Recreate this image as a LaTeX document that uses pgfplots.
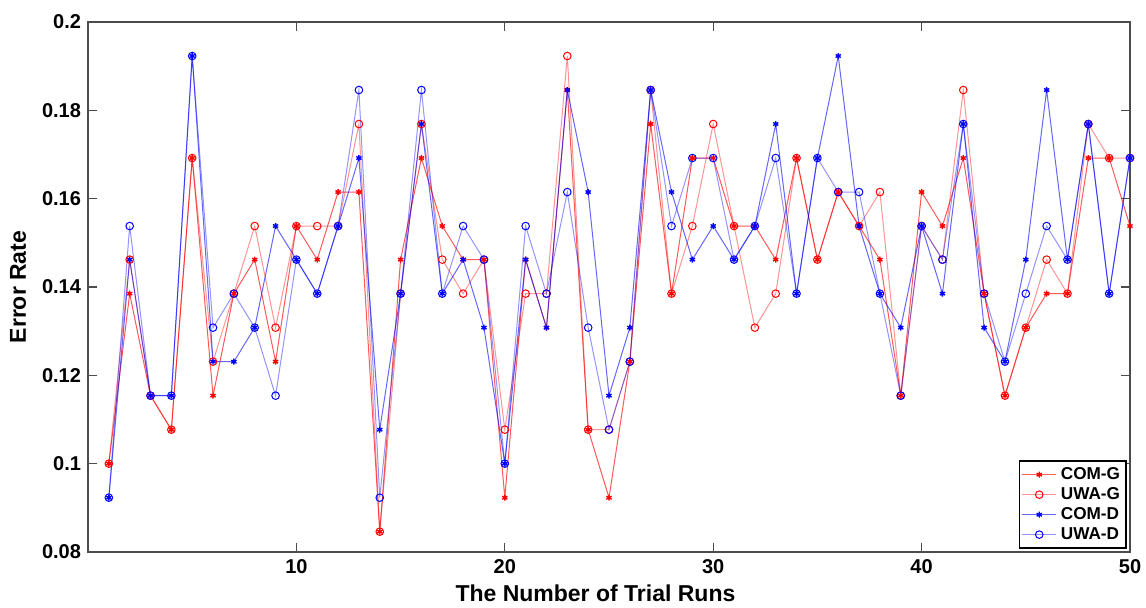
\documentclass[border=0pt]{standalone}
\usepackage{fontspec}
\setmainfont{Liberation Sans}
\usepackage{pgfplots}
\usepackage{pgfplotstable}
\pgfplotsset{compat=1.18}

\pgfplotstableread{
x comg uwag comd uwad
1 0.1000 0.1000 0.0923 0.0923
2 0.1385 0.1462 0.1462 0.1538
3 0.1154 0.1154 0.1154 0.1154
4 0.1077 0.1077 0.1154 0.1154
5 0.1692 0.1692 0.1923 0.1923
6 0.1154 0.1231 0.1231 0.1308
7 0.1385 0.1385 0.1231 0.1385
8 0.1462 0.1538 0.1308 0.1308
9 0.1231 0.1308 0.1538 0.1154
10 0.1538 0.1538 0.1462 0.1462
11 0.1462 0.1538 0.1385 0.1385
12 0.1615 0.1538 0.1538 0.1538
13 0.1615 0.1769 0.1692 0.1846
14 0.0846 0.0846 0.1077 0.0923
15 0.1462 0.1385 0.1385 0.1385
16 0.1692 0.1769 0.1769 0.1846
17 0.1538 0.1462 0.1385 0.1385
18 0.1462 0.1385 0.1462 0.1538
19 0.1462 0.1462 0.1308 0.1462
20 0.0923 0.1077 0.1000 0.1000
21 0.1462 0.1385 0.1462 0.1538
22 0.1308 0.1385 0.1308 0.1385
23 0.1846 0.1923 0.1846 0.1615
24 0.1077 0.1077 0.1615 0.1308
25 0.0923 0.1077 0.1154 0.1077
26 0.1231 0.1231 0.1308 0.1231
27 0.1769 0.1846 0.1846 0.1846
28 0.1385 0.1385 0.1615 0.1538
29 0.1692 0.1538 0.1462 0.1692
30 0.1692 0.1769 0.1538 0.1692
31 0.1538 0.1538 0.1462 0.1462
32 0.1538 0.1308 0.1538 0.1538
33 0.1462 0.1385 0.1769 0.1692
34 0.1692 0.1692 0.1385 0.1385
35 0.1462 0.1462 0.1692 0.1692
36 0.1615 0.1615 0.1923 0.1615
37 0.1538 0.1538 0.1538 0.1615
38 0.1462 0.1615 0.1385 0.1385
39 0.1154 0.1154 0.1308 0.1154
40 0.1615 0.1538 0.1538 0.1538
41 0.1538 0.1462 0.1385 0.1462
42 0.1692 0.1846 0.1769 0.1769
43 0.1385 0.1385 0.1308 0.1385
44 0.1154 0.1154 0.1231 0.1231
45 0.1308 0.1308 0.1462 0.1385
46 0.1385 0.1462 0.1846 0.1538
47 0.1385 0.1385 0.1462 0.1462
48 0.1692 0.1769 0.1769 0.1769
49 0.1692 0.1692 0.1385 0.1385
50 0.1538 0.1692 0.1692 0.1692
}\errtable

\begin{document}
\begin{tikzpicture}
% fix the page to the reference's frame around the 521pt x 265pt plot box
\useasboundingbox (-44pt,-27.5pt) rectangle (529pt,276pt);
\begin{axis}[
  at={(0,0)}, anchor=south west,
  scale only axis, width=521pt, height=265pt,
  xmin=0, xmax=50, ymin=0.08, ymax=0.2,
  xtick={10,20,30,40,50},
  ytick={0.08,0.1,0.12,0.14,0.16,0.18,0.2},
  scaled y ticks=false,
  yticklabel style={/pgf/number format/fixed, /pgf/number format/precision=2},
  /pgf/number format/assume math mode=true,
  tick label style={font=\bfseries\fontsize{10}{12}\selectfont, black},
  tick align=inside, major tick length=4.5pt,
  every tick/.style={black!70, line width=0.6pt},
  axis line style={black!70, line width=0.8pt},
  xlabel={The Number of Trial Runs},
  ylabel={Error Rate},
  every axis x label/.style={at={(axis description cs:0.487,-0.077)}, anchor=center,
    font=\bfseries\fontsize{11.5}{13}\selectfont},
  every axis y label/.style={at={(axis description cs:-0.067,0.5)}, rotate=90, anchor=center,
    font=\bfseries\fontsize{11.5}{13}\selectfont},
  legend style={at={(rel axis cs:0.997,0.006)}, anchor=south east,
    font=\bfseries\fontsize{8.6}{10}\selectfont, draw=black, line width=0.8pt,
    inner sep=1pt, row sep=-1.5pt, cells={anchor=west}},
  legend cell align=left,
]
\addplot[red, draw opacity=0.65, line width=0.5pt, mark=asterisk, mark size=1.5pt,
  mark options={draw opacity=1, line width=0.7pt}] table[x=x, y=comg] {\errtable};
\addlegendentry{COM-G}
\addplot[red, draw opacity=0.42, line width=0.5pt, mark=o, mark size=1.9pt,
  mark options={draw opacity=1, line width=0.5pt}] table[x=x, y=uwag] {\errtable};
\addlegendentry{UWA-G}
\addplot[blue, draw opacity=0.6, line width=0.5pt, mark=asterisk, mark size=1.5pt,
  mark options={draw opacity=1, line width=0.7pt}] table[x=x, y=comd] {\errtable};
\addlegendentry{COM-D}
\addplot[blue, draw opacity=0.42, line width=0.5pt, mark=o, mark size=1.9pt,
  mark options={draw opacity=1, line width=0.5pt}] table[x=x, y=uwad] {\errtable};
\addlegendentry{UWA-D}
\end{axis}
\end{tikzpicture}
\end{document}
